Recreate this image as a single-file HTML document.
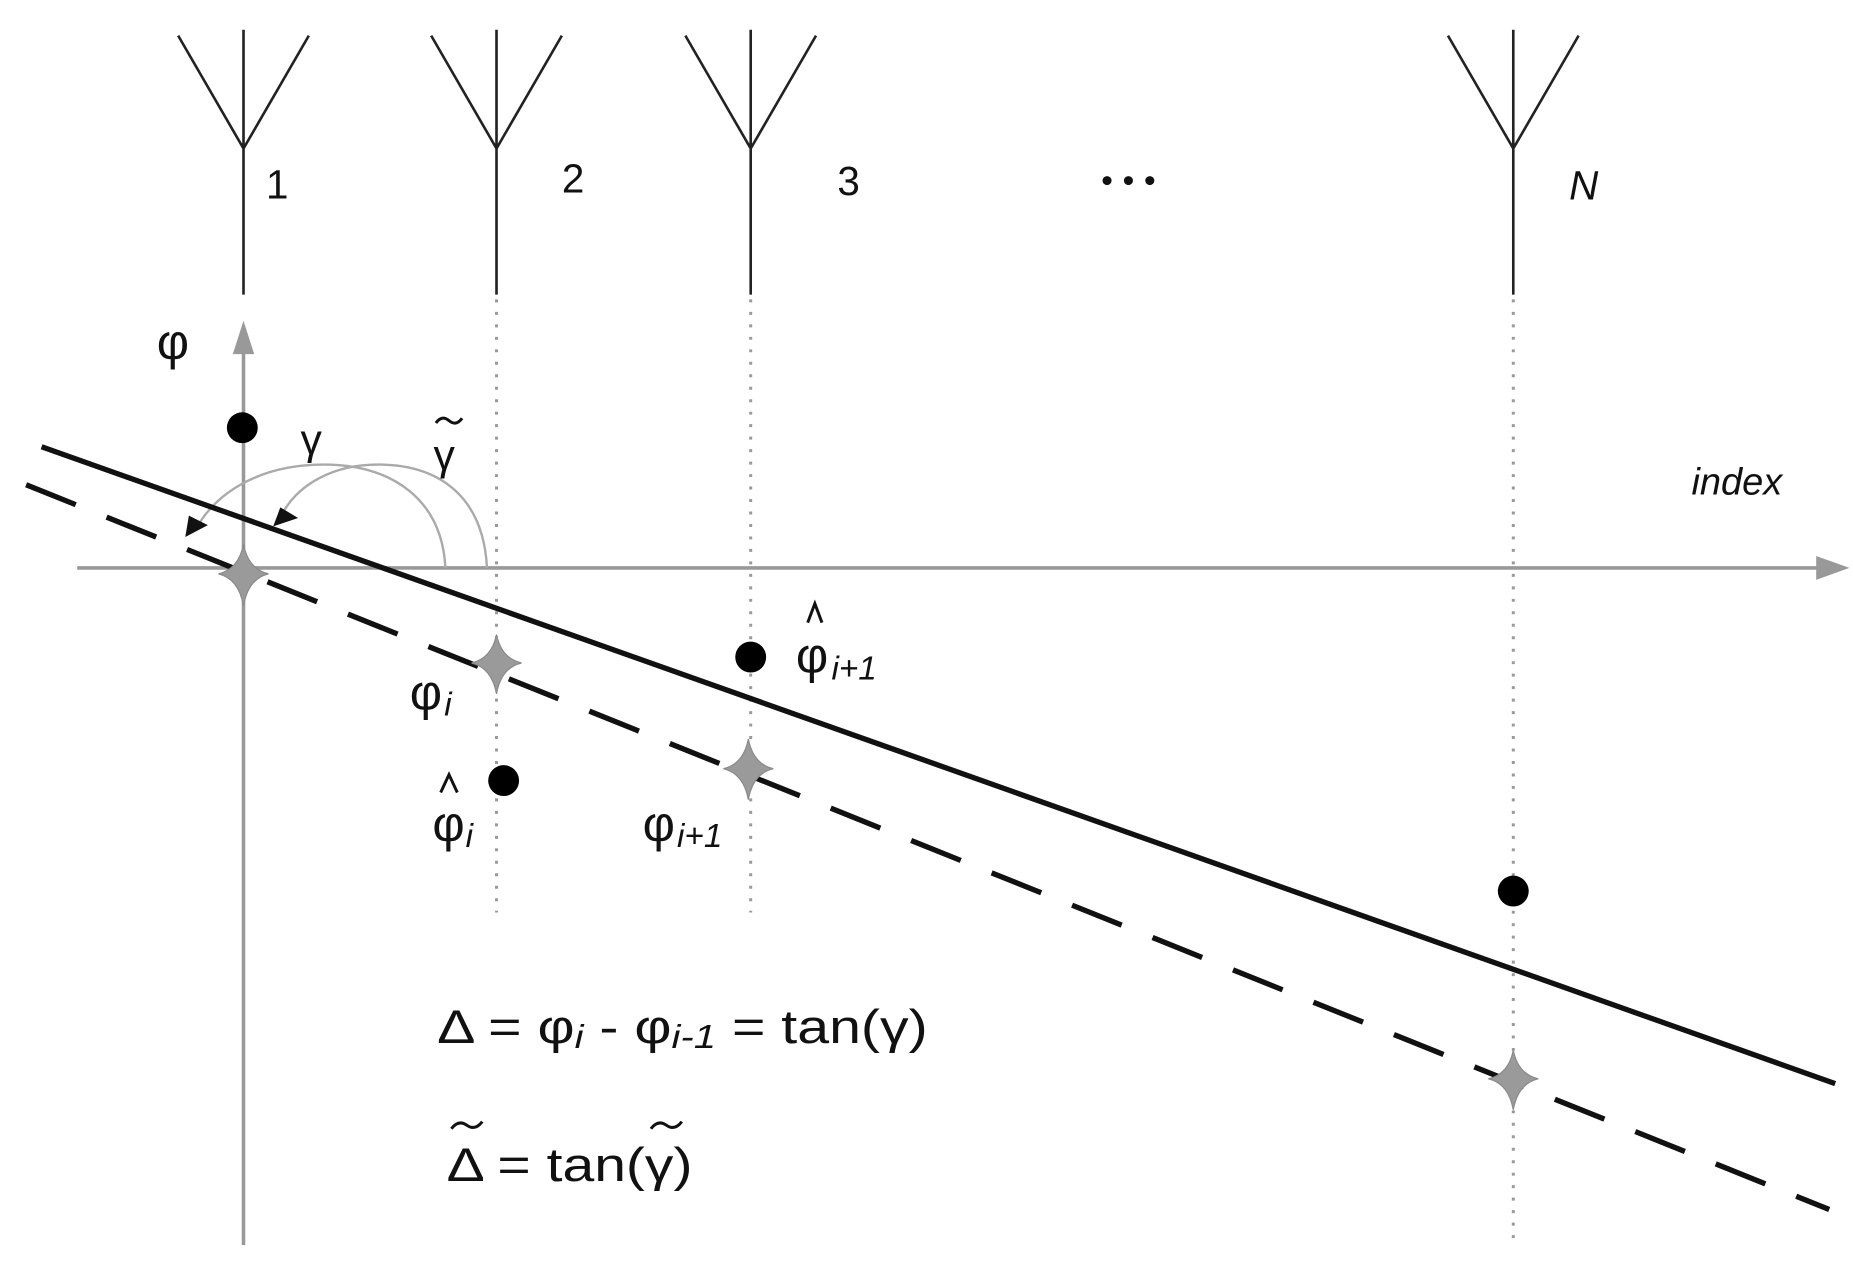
<!DOCTYPE html>
<html><head><meta charset="utf-8"><style>
html,body{margin:0;padding:0;background:#fff;}
svg{display:block;}
text{font-family:"Liberation Sans","DejaVu Sans",sans-serif;fill:#111;}
</style></head><body>
<svg width="1853" height="1263" viewBox="0 0 1560 1063" preserveAspectRatio="none" xmlns="http://www.w3.org/2000/svg">
<!-- antennas -->
<g stroke="#222" stroke-width="2.2" fill="none">
<path d="M150 30 L205 125 L260 30 M205 25 L205 248"/>
<path d="M363 30 L418 125 L473 30 M418 25 L418 248"/>
<path d="M577 30 L632 125 L687 30 M632 25 L632 248"/>
<path d="M1219 30 L1274 125 L1329 30 M1274 25 L1274 248"/>
</g>
<g font-size="34">
<text x="224" y="167">1</text>
<text x="473" y="162">2</text>
<text x="705" y="164">3</text>
<text x="1321" y="168" font-style="italic">N</text>
</g>
<g fill="#111">
<circle cx="932" cy="152" r="3.8"/>
<circle cx="950" cy="152" r="3.8"/>
<circle cx="968" cy="152" r="3.8"/>
</g>
<!-- dotted verticals -->
<g stroke="#999" stroke-width="2.5" stroke-dasharray="2.5 8" fill="none">
<line x1="418" y1="252" x2="418" y2="768"/>
<line x1="632" y1="252" x2="632" y2="768"/>
<line x1="1274" y1="252" x2="1274" y2="1045"/>
</g>
<!-- axes -->
<g stroke="#999" stroke-width="3" fill="none">
<line x1="205" y1="292" x2="205" y2="1048"/>
<line x1="65" y1="478" x2="1532" y2="478"/>
</g>
<polygon points="205,270 196,298 214,298" fill="#999"/>
<polygon points="1557,478 1529,468 1529,488" fill="#999"/>
<!-- arcs -->
<g stroke="#aaa" stroke-width="2" fill="none">
<path d="M375 478 C372 420 330 391 272 391 C222 391 186 412 168 440"/>
<path d="M410 478 C407 420 372 391 318 391 C280 391 252 408 239 430"/>
</g>
<polygon points="156,452 159,434 175,442" fill="#111"/>
<polygon points="230,443 236,427 251,436" fill="#111"/>
<!-- lines -->
<line x1="35" y1="376" x2="1545" y2="912" stroke="#111" stroke-width="4.5"/>
<line x1="22" y1="408" x2="1540" y2="1018" stroke="#111" stroke-width="4.5" stroke-dasharray="45 28"/>
<!-- dots -->
<g fill="#000">
<circle cx="204" cy="360" r="13"/>
<circle cx="632" cy="553" r="13"/>
<circle cx="424" cy="657" r="13"/>
<circle cx="1274" cy="750" r="13"/>
</g>
<!-- stars -->
<g fill="#9a9a9a" stroke="#8a8a8a" stroke-width="1">
<path d="M205 458 Q209 479 226 483 Q209 487 205 510 Q201 487 184 483 Q201 479 205 458Z"/>
<path d="M418 534 Q422 554 439 558 Q422 562 418 584 Q414 562 397 558 Q414 554 418 534Z"/>
<path d="M630 622 Q634 643 651 647 Q634 651 630 673 Q626 651 609 647 Q626 643 630 622Z"/>
<path d="M1274 884 Q1278 904 1295 908 Q1278 912 1274 934 Q1270 912 1253 908 Q1270 904 1274 884Z"/>
</g>
<!-- labels -->
<text x="132" y="302" font-size="42">φ</text>
<text x="253" y="382" font-size="36">γ</text>
<text x="365" y="395" font-size="36">γ</text>
<path d="M367 356 Q372 349 378 354 Q384 359 389 352" stroke="#111" stroke-width="2.5" fill="none"/>
<text x="1424" y="416" font-size="32" font-style="italic">index</text>
<!-- phi hat i+1 -->
<path d="M680 524 L686 508 L692 524" stroke="#111" stroke-width="2.5" fill="none"/>
<text x="670" y="566" font-size="42">φ</text>
<text x="700" y="572" font-size="28" font-style="italic">i+1</text>
<!-- phi i -->
<text x="345" y="597" font-size="42">φ</text>
<text x="374" y="602" font-size="28" font-style="italic">i</text>
<!-- phi hat i -->
<path d="M371 667 L378 652 L385 667" stroke="#111" stroke-width="2.5" fill="none"/>
<text x="364" y="708" font-size="42">φ</text>
<text x="392" y="713" font-size="28" font-style="italic">i</text>
<!-- phi i+1 -->
<text x="541" y="708" font-size="42">φ</text>
<text x="570" y="713" font-size="28" font-style="italic">i+1</text>
<!-- equations -->
<text x="368" y="878" font-size="40" textLength="413" lengthAdjust="spacingAndGlyphs">Δ = φ<tspan font-size="28" font-style="italic" dy="4">i</tspan><tspan dy="-4"> - φ</tspan><tspan font-size="28" font-style="italic" dy="4">i-1</tspan><tspan dy="-4"> = tan(γ)</tspan></text>
<text x="376" y="994" font-size="40" textLength="207" lengthAdjust="spacingAndGlyphs">Δ = tan(γ)</text>
<path d="M380 950 Q386 942 393 947 Q400 952 406 944" stroke="#111" stroke-width="2.5" fill="none"/>
<path d="M548 950 Q554 942 561 947 Q568 952 574 944" stroke="#111" stroke-width="2.5" fill="none"/>
</svg>
</body></html>
